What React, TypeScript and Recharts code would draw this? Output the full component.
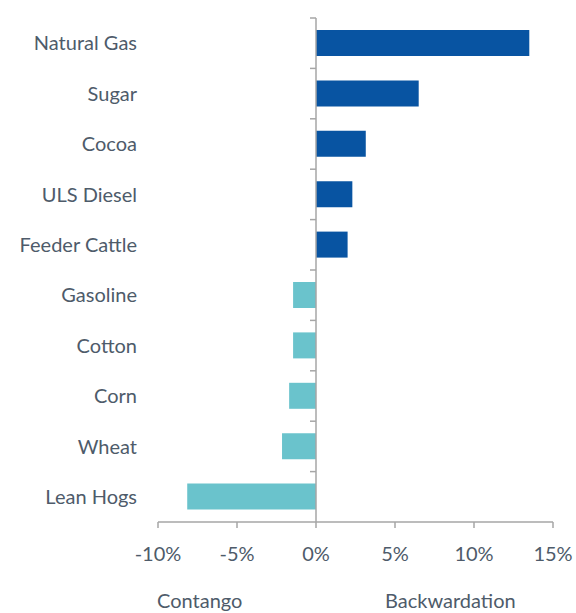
import { BarChart, Bar, XAxis, YAxis, Cell, ReferenceLine } from "recharts";

const CATEGORIES = [
  "Natural Gas",
  "Sugar",
  "Cocoa",
  "ULS Diesel",
  "Feeder Cattle",
  "Gasoline",
  "Cotton",
  "Corn",
  "Wheat",
  "Lean Hogs",
];
const ROLL_YIELD = [13.5, 6.5, 3.15, 2.3, 2.0, -1.45, -1.45, -1.7, -2.15, -8.15];
const X_TICKS = [-10, -5, 0, 5, 10, 15];

const POS_COLOR = "#0854A2";
const NEG_COLOR = "#6AC3CC";
const AXIS_COLOR = "#A6A6A6";
const TEXT_COLOR = "#4E5B6A";
const FONT = "Lato, 'Open Sans', sans-serif";
const FS = 20;

const data = CATEGORIES.map((name, i) => ({ name, value: ROLL_YIELD[i] }));

// vertical zero line with tick marks between categories
function ZeroAxis(props: any) {
  const { x1, y1, y2 } = props;
  const top = Math.min(y1, y2);
  const bottom = Math.max(y1, y2);
  const step = (bottom - top) / CATEGORIES.length;
  const marks = [];
  for (let i = 0; i < CATEGORIES.length; i++) {
    const y = top + step * i;
    marks.push(<line key={i} x1={x1 - 6} x2={x1} y1={y} y2={y} stroke={AXIS_COLOR} strokeWidth={1.5} />);
  }
  return (
    <g>
      <line x1={x1} x2={x1} y1={top} y2={bottom} stroke={AXIS_COLOR} strokeWidth={1.5} />
      {marks}
    </g>
  );
}

export default function App() {
  return (
    <div style={{ position: "absolute", left: 0, top: 0 }}>
      <BarChart
        width={576}
        height={613}
        data={data}
        layout="vertical"
        margin={{ top: 18, right: 23, bottom: 31, left: 0 }}
        style={{ fontFamily: FONT }}
      >
        <XAxis
          type="number"
          domain={[-10, 15]}
          ticks={X_TICKS}
          tickFormatter={(v: number) => `${v}%`}
          height={60}
          stroke={AXIS_COLOR}
          strokeWidth={1.5}
          tickSize={6}
          tickMargin={19}
          tick={{ fill: TEXT_COLOR, fontSize: FS, fontFamily: FONT }}
        />
        <YAxis
          type="category"
          dataKey="name"
          width={158}
          axisLine={false}
          tickLine={false}
          tickSize={0}
          tickMargin={21}
          interval={0}
          tick={{ fill: TEXT_COLOR, fontSize: FS, fontFamily: FONT }}
        />
        <Bar dataKey="value" barSize={26} isAnimationActive={false}>
          {data.map((d, i) => (
            <Cell key={i} fill={d.value >= 0 ? POS_COLOR : NEG_COLOR} />
          ))}
        </Bar>
        <ReferenceLine x={0} shape={ZeroAxis} />
        <text x={157} y={608} fill={TEXT_COLOR} fontSize={FS} fontFamily={FONT}>
          Contango
        </text>
        <text x={385} y={608} fill={TEXT_COLOR} fontSize={FS} fontFamily={FONT}>
          Backwardation
        </text>
      </BarChart>
    </div>
  );
}
